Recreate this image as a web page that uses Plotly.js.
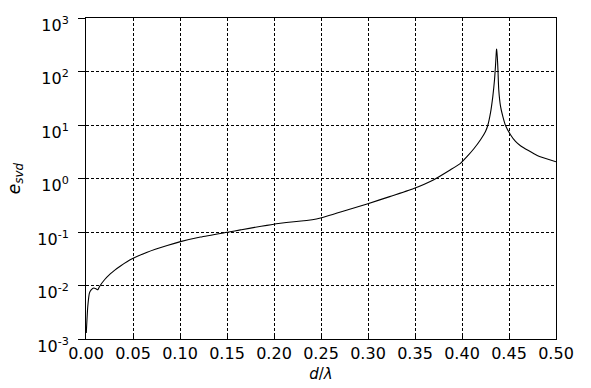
<!DOCTYPE html>
<html>
<head>
<meta charset="utf-8">
<script src="https://cdn.plot.ly/plotly-3.0.1.min.js"></script>
<style>html,body{margin:0;padding:0;background:#fff;}#chart{width:591px;height:388px;}</style>
</head>
<body>
<div id="chart"></div>
<script>
// d/lambda values
const dLambda = [0.0003, 0.0019, 0.0037, 0.0055, 0.0083, 0.0109, 0.0126, 0.0144, 0.0197, 0.0261, 0.0303, 0.0367,
  0.0491, 0.0651, 0.0864, 0.1005, 0.1218, 0.1519, 0.1644, 0.1998, 0.2406, 0.2495, 0.2814, 0.2991, 0.3239,
  0.3487, 0.3700, 0.3878, 0.3984, 0.4055, 0.4126, 0.4197, 0.4250, 0.4274, 0.4303, 0.4328, 0.4346, 0.4356,
  0.4367, 0.4370, 0.4381, 0.4391, 0.4410, 0.4434, 0.4463, 0.4516, 0.4569, 0.4622, 0.4800, 0.5000];
// e_svd values
const eSvd = [0.0013, 0.0041, 0.0073, 0.0083, 0.0090, 0.0086, 0.0083, 0.0096, 0.0128, 0.0166, 0.0192, 0.0232,
  0.0315, 0.0420, 0.0560, 0.0660, 0.0805, 0.1000, 0.1095, 0.1400, 0.1700, 0.183, 0.269, 0.335, 0.463,
  0.650, 0.95, 1.46, 1.92, 2.59, 3.60, 5.31, 7.59, 9.8, 16.8, 34.3, 70, 124,
  255, 263, 124, 45.7, 22.3, 14.5, 9.8, 6.59, 4.93, 4.10, 2.70, 2.06];
const xTickVals = [0, 0.05, 0.10, 0.15, 0.20, 0.25, 0.30, 0.35, 0.40, 0.45, 0.50];
const xTickText = ["0.00", "0.05", "0.10", "0.15", "0.20", "0.25", "0.30", "0.35", "0.40", "0.45", "0.50"];
const yTickVals = [1e-3, 1e-2, 1e-1, 1e0, 1e1, 1e2, 1e3];
const yTickText = ["10<sup>-3</sup>", "10<sup>-2</sup>", "10<sup>-1</sup>", "10<sup>0</sup>", "10<sup>1</sup>", "10<sup>2</sup>", "10<sup>3</sup>"];

const trace = {
  x: dLambda, y: eSvd, type: 'scatter', mode: 'lines',
  line: {color: '#000', width: 1.1, shape: 'spline', smoothing: 0.5},
  hoverinfo: 'skip'
};
const font = {family: 'DejaVu Sans, sans-serif', color: '#000', size: 16};
const layout = {
  width: 591, height: 388,
  margin: {l: 86, r: 35, t: 18, b: 49},
  paper_bgcolor: '#fff', plot_bgcolor: '#fff',
  showlegend: false,
  font: font,
  xaxis: {
    range: [0, 0.5], tickmode: 'array', tickvals: xTickVals, ticktext: xTickText,
    showgrid: true, gridcolor: '#000', gridwidth: 1, griddash: '3px,2px',
    showline: true, linecolor: '#000', linewidth: 1, mirror: true,
    ticks: 'inside', ticklen: 4, tickcolor: '#000',
    zeroline: false, tickfont: font,
    title: {text: '<i>d</i>/<i>λ</i>', font: {family: 'DejaVu Sans, sans-serif', size: 15, color: '#000'}, standoff: 6}
  },
  yaxis: {
    type: 'log', range: [-3, 3], tickmode: 'array', tickvals: yTickVals, ticktext: yTickText,
    showgrid: true, gridcolor: '#000', gridwidth: 1, griddash: '3px,2px',
    showline: true, linecolor: '#000', linewidth: 1, mirror: true,
    ticks: 'outside', ticklen: 7, tickcolor: '#000',
    ticklabelstandoff: 6, ticklabelshift: 7,
    zeroline: false, tickfont: font,
    title: {text: '<i>e<sub>svd</sub></i>', font: {family: 'DejaVu Sans, sans-serif', size: 17, color: '#000'}, standoff: 12}
  }
};
Plotly.newPlot('chart', [trace], layout, {staticPlot: true, displayModeBar: false});
</script>
</body>
</html>
